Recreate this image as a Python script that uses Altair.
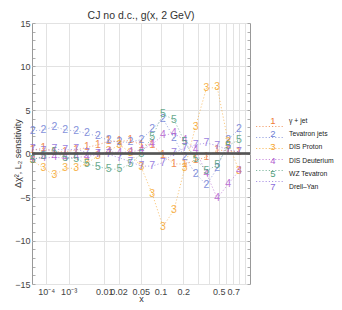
import altair as alt
import pandas as pd

# x positions of the computed points
xs = [1.15e-5, 7.0e-5, 2.64e-4, 7.5e-4, 1.79e-3, 3.74e-3, 7.1e-3, 0.0126, 0.0209, 0.0333,
      0.0509, 0.0752, 0.108, 0.152, 0.208, 0.280, 0.371, 0.484, 0.624, 0.793]

series_names = ["γ + jet", "Tevatron jets", "DIS Proton", "DIS Deuterium", "WZ Tevatron", "Drell–Yan"]
series_marks = ["1", "2", "3", "4", "5", "7"]
series_colors = ["#f07a35", "#6f80d6", "#f6a52c", "#b25ccf", "#4f9c7a", "#8a6bdb"]

y_gamma_jet = [0.4, 0.6, 0.2, 0.2, 0.4, 0.7, 1.0, 1.4, 1.4, 1.5, 1.0, 1.0, -0.2, -1.2, -1.2, -0.8, -0.4, 0.4, 0.3, 0.2]
y_tevatron_jets = [2.6, 2.7, 3.1, 2.7, 2.6, 2.3, 2.0, 1.5, 1.3, 1.3, 1.6, 2.8, 4.0, 1.8, -0.45, -2.3, -3.6, -1.7, 1.6, 2.8]
y_dis_proton = [-0.8, -1.7, -2.5, -1.7, -1.7, -1.1, -0.3, 0.3, 1.0, 0.1, -1.6, -4.6, -8.4, -6.5, -1.7, 3.1, 7.5, 7.6, 1.3, -2.0]
y_dis_deuterium = [-0.6, -0.5, -0.45, -0.5, -0.45, -0.35, -0.1, 0.2, 0.1, 0.2, 0.4, 1.05, 2.1, 2.3, 1.55, 0.4, -2.3, -5.15, -3.5, -2.0]
y_wz_tevatron = [-0.7, -0.3, 0.2, -0.5, -0.6, -1.2, -1.5, -1.8, -1.8, -1.2, 0.0, 1.9, 4.5, 3.9, 1.3, -0.6, -2.0, -1.3, 0.9, 1.6]
y_drell_yan = [0.5, 0.3, 0.5, 0.4, 0.5, 0.1, 0.0, -0.1, -0.5, -0.95, -1.45, -1.45, -1.05, 0.1, 0.6, 1.0, 1.2, 0.9, 0.4, 0.2]

all_y = [y_gamma_jet, y_tevatron_jets, y_dis_proton, y_dis_deuterium, y_wz_tevatron, y_drell_yan]

grid_vals = [0.0001, 0.001, 0.01, 0.02, 0.05, 0.1, 0.2, 0.3, 0.4, 0.5, 0.6, 0.7, 0.8, 0.9]
grid_labels = ["10⁻⁴", "10⁻³", "0.01", "0.02", "0.05", "0.1", "0.2", "", "", "0.5", "", "0.7", "", ""]
y_major = [-15, -10, -5, 0, 5, 10, 15]
y_minor = list(range(-15, 16))

rows = []
for name, mk, ys in zip(series_names, series_marks, all_y):
    for xv, yv in zip(xs, ys):
        rows.append({"x": xv, "y": yv, "series": name, "mark": mk})
df = pd.DataFrame(rows)
legend_df = pd.DataFrame({"series": series_names, "mark": series_marks})

FONT = "Liberation Sans"
label_expr = "''"
for v, l in reversed(list(zip(grid_vals, grid_labels))):
    if l:
        label_expr = f"datum.value == {v} ? '{l}' : {label_expr}"

xscale = alt.Scale(type="pow", exponent=0.2, domain=[1e-5, 1], nice=False, zero=False)
yscale = alt.Scale(domain=[-15, 15], nice=False, zero=False)
color = alt.Color("series:N", scale=alt.Scale(domain=series_names, range=series_colors), legend=None)

x_main_axis = alt.Axis(values=grid_vals, labelExpr=label_expr, grid=True, gridColor="#e2e2e2",
                       gridWidth=1, ticks=False, tickSize=0, domain=False, labelPadding=3,
                       labelFont=FONT, labelFontSize=9, labelColor="#444", title="x",
                       titleFont=FONT, titleFontSize=9, titleFontWeight="normal",
                       titleColor="#333", titleY=17, titleBaseline="alphabetic",
                       labelFlush=False, labelOverlap=False)
y_main_axis = alt.Axis(orient="left", values=y_major, grid=True, gridColor="#e2e2e2", gridWidth=1,
                       ticks=False, tickSize=0, domain=False, labelPadding=2, labelFont=FONT,
                       labelFontSize=9, labelColor="#444", title="Δχ², L₂ sensitivity",
                       titleFont=FONT, titleFontSize=9, titleFontWeight="normal", titleColor="#333",
                       titleX=-10, titleY=130, titleAngle=-90, labelOverlap=False)
y_left_ticks = alt.Axis(orient="left", values=y_minor, offset=-3, tickSize=3, tickColor="#999",
                        tickWidth=0.8, labels=False, domain=False, grid=False, title=None)
y_right_ticks = alt.Axis(orient="right", values=y_minor, offset=-3, tickSize=3, tickColor="#999",
                         tickWidth=0.8, labels=False, domain=False, grid=False, title=None)

base = alt.Chart(df)
lines = base.mark_line(strokeDash=[1.2, 2], strokeWidth=1, opacity=0.6).encode(
    x=alt.X("x:Q", scale=xscale, axis=x_main_axis),
    y=alt.Y("y:Q", scale=yscale, axis=y_main_axis),
    color=color,
    order="x:Q",
)
texts = base.mark_text(font=FONT, fontSize=10.5, align="center", baseline="middle", opacity=0.85).encode(
    x=alt.X("x:Q", scale=xscale, axis=None),
    y=alt.Y("y:Q", scale=yscale, axis=y_left_ticks),
    text="mark:N",
    color=color,
)
zero = alt.Chart(legend_df).mark_rule(color="#555", strokeWidth=1.5).encode(
    y=alt.YDatum(0, scale=yscale, axis=y_right_ticks),
)

leg_scale = alt.Scale(domain=series_names, range=[98, 164], padding=0)
leg_rule = alt.Chart(legend_df).mark_rule(strokeDash=[1.2, 2], strokeWidth=1, opacity=0.7).encode(
    x=alt.value(224), x2=alt.value(251),
    y=alt.Y("series:N", scale=leg_scale, axis=None),
    color=color,
)
leg_num = alt.Chart(legend_df).mark_text(font=FONT, fontSize=9.5, align="center", baseline="middle").encode(
    x=alt.value(241),
    y=alt.Y("series:N", scale=leg_scale, axis=None),
    text="mark:N",
    color=color,
)
leg_lab = alt.Chart(legend_df).mark_text(font=FONT, fontSize=6.8, align="left", baseline="middle",
                                         color="#222").encode(
    x=alt.value(257),
    y=alt.Y("series:N", scale=leg_scale, axis=None),
    text="series:N",
)

chart = alt.layer(lines, texts, zero, leg_rule, leg_num, leg_lab).resolve_scale(
    y="independent"
).resolve_axis(x="independent", y="independent").properties(
    width=218, height=261,
    title=alt.TitleParams("CJ no d.c., g(x, 2 GeV)", font=FONT, fontSize=10.5, fontWeight="normal",
                          color="#333", anchor="middle", offset=-2),
    autosize=alt.AutoSizeParams(type="none"),
    padding={"left": 24, "top": 15, "right": 84, "bottom": 18},
).configure_view(stroke="#999", strokeWidth=1)

chart.save("out.html", embed_options={"renderer": "svg", "actions": False})
